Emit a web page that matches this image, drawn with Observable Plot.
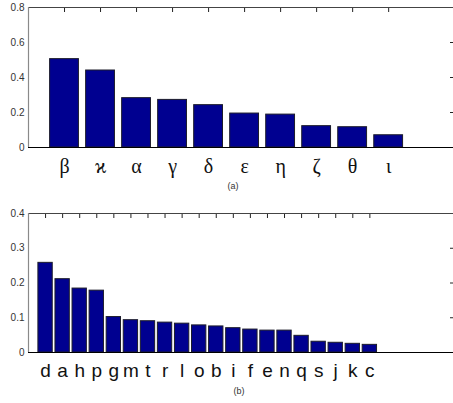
<!DOCTYPE html>
<html>
<head>
<meta charset="utf-8">
<script src="https://cdn.jsdelivr.net/npm/d3@7"></script>
<script src="https://cdn.jsdelivr.net/npm/@observablehq/plot@0.6"></script>
<style>
  html, body { margin: 0; padding: 0; background: #fff; overflow: hidden; }
  svg { display: block; }
</style>
</head>
<body>
<div id="chart"></div>
<script>
// Panel (a)
const topLabels = ["β", "ϰ", "α", "γ", "δ", "ε", "η", "ζ", "θ", "ι"];
const topValues = [0.505, 0.44, 0.282, 0.272, 0.242, 0.194, 0.188, 0.122, 0.116, 0.070];
const topYTicks = [0, 0.2, 0.4, 0.6, 0.8];
const topCaption = "(a)";

// Panel (b)
const botLabels = ["d","a","h","p","g","m","t","r","l","o","b","i","f","e","n","q","s","j","k","c"];
const botValues = [0.258, 0.211, 0.184, 0.178, 0.102, 0.093, 0.090, 0.086, 0.083, 0.078, 0.075, 0.070, 0.066, 0.063, 0.063, 0.048, 0.031, 0.028, 0.025, 0.022];
const botYTicks = [0, 0.1, 0.2, 0.3, 0.4];
const botCaption = "(b)";

const barFill = "#000090";

function panel({labels, values, yTicks, caption, height, marginTop, marginBottom, xMax, half, labelFont, labelSize, labelPadding, captionDy, captionDx}) {
  const data = values.map((v, i) => ({k: i + 1, name: labels[i], v}));
  const idx = data.map(d => d.k);
  const yMax = yTicks[yTicks.length - 1];
  return Plot.plot({
    width: 453,
    height,
    marginLeft: 28,
    marginRight: 0,
    marginTop,
    marginBottom,
    x: {domain: [0, xMax], axis: null},
    y: {domain: [0, yMax], axis: null},
    style: {background: "#fff", overflow: "visible"},
    marks: [
      Plot.rectY(data, {x1: d => d.k - half, x2: d => d.k + half, y: "v", fill: barFill, stroke: "#1c1c2a", strokeWidth: 1}),
      Plot.ruleY([yMax], {stroke: "#444", strokeWidth: 1.2}),
      Plot.ruleY([0], {stroke: "#000", strokeWidth: 1.2}),
      Plot.ruleX([0], {stroke: "#8a8a8a", strokeWidth: 1.2}),
      Plot.axisX({anchor: "top", label: null, ticks: idx, tickSize: 4, dy: 4, tickFormat: () => "", stroke: "#222"}),
      Plot.axisY({anchor: "right", label: null, ticks: yTicks.slice(1, -1), tickSize: 4, dx: -4, tickFormat: () => "", stroke: "#222"}),
      Plot.axisY({anchor: "left", label: null, ticks: yTicks, tickSize: 0, tickPadding: 4,
        tickFormat: d => d === 0 ? "0" : d3.format(".1f")(d),
        fontSize: 10, fontFamily: "Liberation Sans Narrow, Liberation Sans, Arial, sans-serif", fill: "#333"}),
      Plot.axisX({anchor: "bottom", label: null, ticks: idx, tickSize: 0, tickPadding: labelPadding,
        tickFormat: k => labels[k - 1], fontSize: labelSize, fontFamily: labelFont, fill: "#111"}),
      Plot.text([caption], {frameAnchor: "bottom", dy: captionDy, dx: captionDx, fontSize: 9,
        fontFamily: "Liberation Sans, Arial, sans-serif", fill: "#333"})
    ]
  });
}

const chart = document.getElementById("chart");
chart.append(panel({
  labels: topLabels, values: topValues, yTicks: topYTicks, caption: topCaption,
  height: 200, marginTop: 7, marginBottom: 53, xMax: 11.8, half: 0.4,
  labelFont: "Liberation Serif, DejaVu Serif, serif", labelSize: 20, labelPadding: 11,
  captionDy: 41, captionDx: -8
}));
chart.append(panel({
  labels: botLabels, values: botValues, yTicks: botYTicks, caption: botCaption,
  height: 203, marginTop: 13, marginBottom: 51, xMax: 24.9, half: 0.42,
  labelFont: "Liberation Sans, Arial, sans-serif", labelSize: 19, labelPadding: 11,
  captionDy: 41, captionDx: -2
}));
</script>
</body>
</html>
